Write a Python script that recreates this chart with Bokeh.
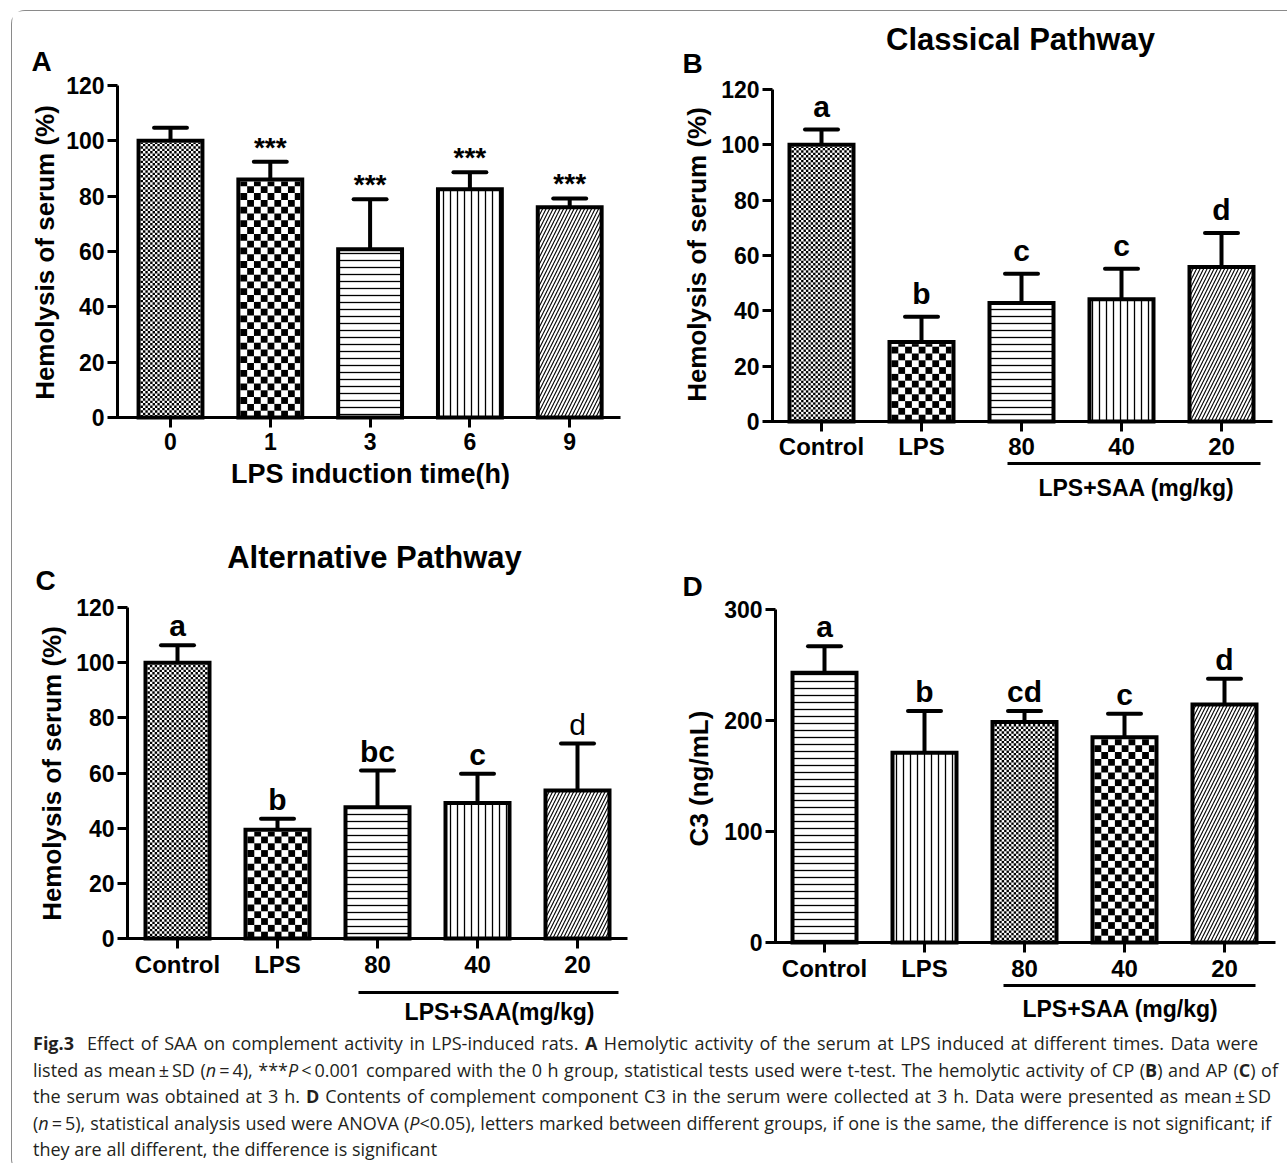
import math
from bokeh.plotting import figure
from bokeh.models import Range1d, FixedTicker, Div
from bokeh.layouts import column, row
from bokeh.embed import file_html
from bokeh.resources import INLINE
from bokeh.core.properties import value

FONT = "Liberation Sans"

# ---------------- data ----------------
A_groups = ["0", "1", "3", "6", "9"]
A_mean = [100.0, 86.0, 60.8, 82.5, 76.0]
A_sd = [4.7, 6.4, 18.1, 6.1, 3.2]
A_marks = ["", "***", "***", "***", "***"]

B_groups = ["Control", "LPS", "80", "40", "20"]
B_mean = [100.0, 28.7, 42.8, 44.2, 55.8]
B_sd = [5.5, 9.2, 10.6, 11.0, 12.3]
B_letters = ["a", "b", "c", "c", "d"]

C_groups = ["Control", "LPS", "80", "40", "20"]
C_mean = [100.0, 39.4, 47.6, 49.1, 53.7]
C_sd = [6.3, 4.0, 13.3, 10.6, 17.0]
C_letters = ["a", "b", "bc", "c", "d"]

D_groups = ["Control", "LPS", "80", "40", "20"]
D_mean = [243.0, 171.0, 198.6, 185.0, 214.4]
D_sd = [24.0, 37.5, 10.0, 21.0, 23.2]
D_letters = ["a", "b", "cd", "c", "d"]

pct_ticks = [0, 20, 40, 60, 80, 100, 120]
c3_ticks = [0, 100, 200, 300]

# ---------------- styles ----------------
LINE_HATCH = {
    "hline": dict(hatch_pattern="horizontal_line", hatch_scale=7, hatch_weight=1.3),
    "vline": dict(hatch_pattern="vertical_line", hatch_scale=7, hatch_weight=1.3),
    "diag": dict(hatch_pattern="right_diagonal_line", hatch_scale=7, hatch_weight=1.1),
}
CHECK_CELL = {"fine": 2.4, "coarse": 6.8}   # checker cell size in pixels


def checker_cells(x0, x1, y1, cw, ch):
    L, R, B, T = [], [], [], []
    nr = int(math.ceil(y1 / ch - 1e-9))
    nc = int(math.ceil((x1 - x0) / cw - 1e-9))
    for r in range(nr):
        yb = r * ch
        yt = min(yb + ch, y1)
        for c in range(nc):
            if (r + c) % 2:
                continue
            xl = x0 + c * cw
            L.append(xl); R.append(min(xl + cw, x1)); B.append(yb); T.append(yt)
    return L, R, B, T


def txt(p, x, y, s, size, align="center", angle=0.0, style="bold"):
    p.text(x=[x], y=[y], text=[s], angle=angle, text_align=align, text_baseline="middle",
           text_font=value(FONT), text_font_size=size, text_font_style=style, text_color="black")


def make_panel(P, groups, means, sds, marks, fills, yticks, ytitle):
    ox, oy = P["origin"]
    W, H = P["size"]
    S = P["step_px"]
    ppu = (P["zero_py"] - P["top_py"]) / P["ymax"]
    X = lambda ax: (ax - P["cat0_px"]) / S        # page px -> data x
    Y = lambda ay: (P["zero_py"] - ay) / ppu      # page px -> data y

    p = figure(width=W, height=H, x_range=Range1d(X(ox), X(ox + W)), y_range=Range1d(Y(oy + H), Y(oy)),
               min_border=0, min_border_left=0, min_border_right=0, min_border_top=0, min_border_bottom=0,
               output_backend="svg", toolbar_location=None, tools="")
    p.outline_line_color = None
    p.grid.visible = False
    p.background_fill_color = "white"
    p.border_fill_color = "white"

    xs = list(range(len(groups)))
    tops = [m + s for m, s in zip(means, sds)]

    # x axis (drawn at y = 0)
    xa = p.xaxis[0]
    xa.fixed_location = 0
    xa.bounds = (X(P["axis_px"] - 6), X(P["right_px"]))
    xa.ticker = FixedTicker(ticks=xs)
    xa.major_label_overrides = {i: g for i, g in enumerate(groups)}
    xa.axis_line_width = 3
    xa.major_tick_line_width = 3
    xa.major_tick_out = 10
    xa.major_tick_in = 0
    xa.minor_tick_line_color = None
    xa.major_label_standoff = P.get("xlab_standoff", 2)
    xa.major_label_text_font = FONT
    xa.major_label_text_font_style = "bold"
    xa.major_label_text_font_size = P["xlab_size"]
    xa.major_label_text_color = "black"

    # y axis
    ya = p.yaxis[0]
    ya.fixed_location = X(P["axis_px"])
    ya.bounds = (0, P["ymax"])
    ya.ticker = FixedTicker(ticks=yticks)
    ya.axis_line_width = 3
    ya.major_tick_line_width = 3
    ya.major_tick_out = 10
    ya.major_tick_in = 0
    ya.minor_tick_line_color = None
    ya.major_label_standoff = 3
    ya.major_label_text_font = FONT
    ya.major_label_text_font_style = "bold"
    ya.major_label_text_font_size = "23px"
    ya.major_label_text_color = "black"

    # error bars (upper only)
    p.segment(x0=xs, y0=means, x1=xs, y1=tops, line_color="black", line_width=4)
    p.segment(x0=[x - 0.165 for x in xs], y0=tops, x1=[x + 0.165 for x in xs], y1=tops,
              line_color="black", line_width=4, line_cap="round")

    # bars
    half = 0.32
    inner = half - 2.0 / S
    for i, x in enumerate(xs):
        kind = fills[i]
        p.vbar(x=[x], top=[means[i]], bottom=0, width=2 * half, fill_color="white", line_color=None,
               hatch_color="black", **LINE_HATCH.get(kind, {}))
        if kind in CHECK_CELL:
            cell = CHECK_CELL[kind]
            L, R, B, T = checker_cells(x - inner, x + inner, means[i] - 2.0 / ppu, cell / S, cell / ppu)
            p.quad(left=L, right=R, bottom=B, top=T, fill_color="black", line_color=None)
        p.vbar(x=[x], top=[means[i]], bottom=0, width=2 * half, fill_alpha=0,
               line_color="black", line_width=4, line_join="miter")

    # significance marks above the error caps
    for i, x in enumerate(xs):
        if marks[i]:
            style = P.get("mark_styles", ["bold"] * len(xs))[i]
            txt(p, x, tops[i] + P["mark_gap"] / ppu, marks[i], P["mark_size"], style=style)

    # panel letter, title, axis titles, treatment bracket
    lx, ly = P["letter_pos"]
    txt(p, X(lx), Y(ly), P["letter"], "28px", align="left")
    if "title" in P:
        tx, ty = P["title_pos"]
        txt(p, X(tx), Y(ty), P["title"], "31px")
    yx, yy = P["ytitle_pos"]
    txt(p, X(yx), Y(yy), ytitle, "26px", angle=math.pi / 2)
    if "xtitle" in P:
        tx, ty = P["xtitle_pos"]
        txt(p, X(tx), Y(ty), P["xtitle"], "27px")
    if "bracket" in P:
        bl, br, by = P["bracket"]
        p.segment(x0=[X(bl)], y0=[Y(by)], x1=[X(br)], y1=[Y(by)], line_color="black", line_width=3)
        tx, ty = P["bracket_text_pos"]
        txt(p, X(tx), Y(ty), P["bracket_text"], "23px")
    return p


PA = dict(origin=(12, 11), size=(628, 519), axis_px=117, cat0_px=170, step_px=99.8, right_px=620,
          zero_py=417, top_py=85, ymax=120, xlab_size="23px", xlab_standoff=5,
          mark_gap=14.5, mark_size="28px",
          letter="A", letter_pos=(31, 60.5), ytitle_pos=(44, 252),
          xtitle="LPS induction time(h)", xtitle_pos=(370, 473.5))
PB = dict(origin=(640, 11), size=(647, 519), axis_px=772, cat0_px=821, step_px=100, right_px=1272,
          zero_py=421, top_py=89, ymax=120, xlab_size="24px", xlab_standoff=1,
          mark_gap=23.4, mark_size="30px",
          letter="B", letter_pos=(682, 63), ytitle_pos=(696, 254),
          title="Classical Pathway", title_pos=(1020, 39),
          bracket=(1007, 1260, 463), bracket_text="LPS+SAA (mg/kg)", bracket_text_pos=(1136, 487))
PC = dict(origin=(12, 530), size=(628, 495), axis_px=127, cat0_px=177, step_px=100, right_px=627,
          zero_py=938, top_py=607, ymax=120, xlab_size="24px",
          mark_gap=19.4, mark_size="30px", mark_styles=["bold", "bold", "bold", "bold", "normal"],
          letter="C", letter_pos=(35, 579.5), ytitle_pos=(51, 773),
          title="Alternative Pathway", title_pos=(374, 557),
          bracket=(358, 618, 992), bracket_text="LPS+SAA(mg/kg)", bracket_text_pos=(499, 1011))
PD = dict(origin=(640, 530), size=(647, 495), axis_px=775, cat0_px=824, step_px=100, right_px=1275,
          zero_py=942, top_py=609, ymax=300, xlab_size="24px",
          mark_gap=19.4, mark_size="30px",
          letter="D", letter_pos=(682, 586), ytitle_pos=(698, 778),
          bracket=(1003, 1255, 985), bracket_text="LPS+SAA (mg/kg)", bracket_text_pos=(1120, 1008.5))

pA = make_panel(PA, A_groups, A_mean, A_sd, A_marks, ["fine", "coarse", "hline", "vline", "diag"],
                pct_ticks, "Hemolysis of serum (%)")
pB = make_panel(PB, B_groups, B_mean, B_sd, B_letters, ["fine", "coarse", "hline", "vline", "diag"],
                pct_ticks, "Hemolysis of serum (%)")
pC = make_panel(PC, C_groups, C_mean, C_sd, C_letters, ["fine", "coarse", "hline", "vline", "diag"],
                pct_ticks, "Hemolysis of serum (%)")
pD = make_panel(PD, D_groups, D_mean, D_sd, D_letters, ["hline", "vline", "fine", "coarse", "diag"],
                c3_ticks, "C3 (ng/mL)")

caption_lines = [
    '<b>Fig.3</b>&nbsp; Effect of SAA on complement activity in LPS-induced rats. <b>A</b> Hemolytic activity of the serum at LPS induced at different times. Data were',
    'listed as mean&#8201;±&#8201;SD (<i>n</i>&#8201;=&#8201;4), ***<i>P</i>&#8201;&lt;&#8201;0.001 compared with the 0 h group, statistical tests used were t-test. The hemolytic activity of CP (<b>B</b>) and AP (<b>C</b>) of',
    'the serum was obtained at 3 h. <b>D</b> Contents of complement component C3 in the serum were collected at 3 h. Data were presented as mean&#8201;±&#8201;SD',
    '(<i>n</i>&#8201;=&#8201;5), statistical analysis used were ANOVA (<i>P</i>&lt;0.05), letters marked between different groups, if one is the same, the difference is not significant; if',
    'they are all different, the difference is significant',
]
line_widths = [1225, 1245, 1238, 1238, None]
blocks = []
for t, w in zip(caption_lines, line_widths):
    if w:
        blocks.append('<div style="width:%dpx;text-align:justify;text-align-last:justify;'
                      'white-space:nowrap;">%s</div>' % (w, t))
    else:
        blocks.append('<div style="white-space:nowrap;">%s</div>' % t)
cap_html = ('<div style="font-family:\'Open Sans\',sans-serif;font-size:18px;line-height:26.5px;'
            'color:#231f20;padding:0 0 0 16px;">' + ''.join(blocks) + '</div>')
cap = Div(text=cap_html, width=1275, height=137)

root = column(row(pA, pB), row(pC, pD), cap, margin=(10, 0, 0, 11),
              styles={"border-left": "1px solid #8a8a8a", "border-top": "1px solid #8a8a8a",
                      "border-bottom": "1px solid #8a8a8a",
                      "border-top-left-radius": "14px", "border-bottom-left-radius": "14px"})

open("out.html", "w").write(file_html(root, INLINE))
